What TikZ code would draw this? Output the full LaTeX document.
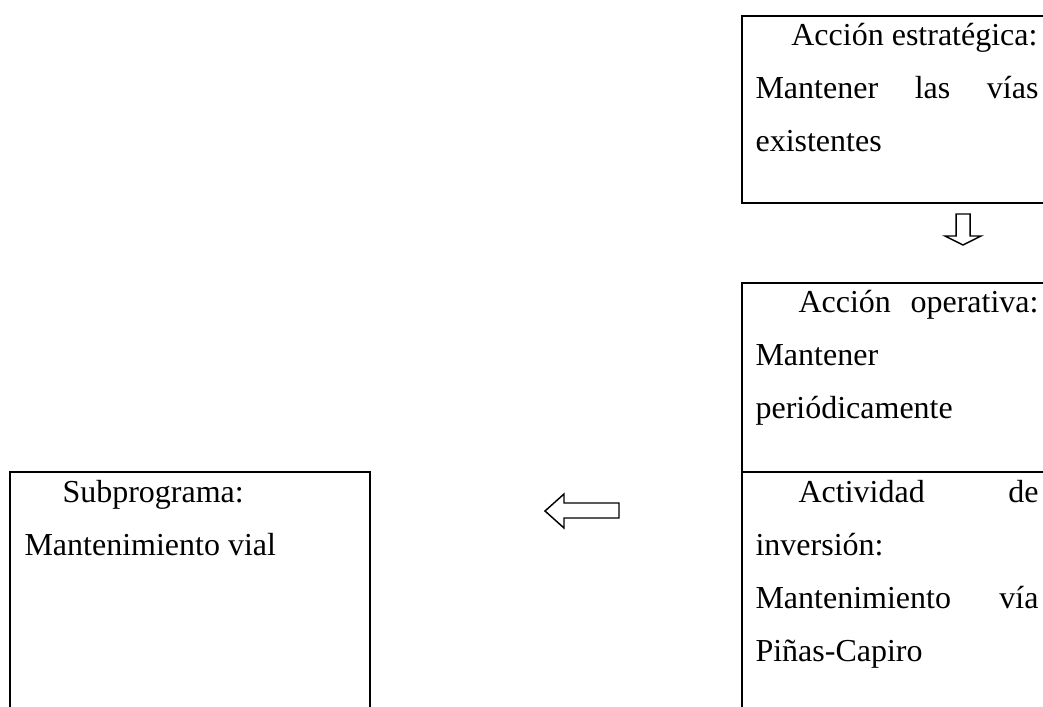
\documentclass[tikz,border=0pt]{standalone}
\usepackage{fontspec}
\setmainfont{Liberation Serif}
\begin{document}
\begin{tikzpicture}[x=0.375pt,y=-0.375pt,
  font=\fontsize{12}{14}\selectfont,
  boxline/.style={line width=0.9pt},
  txt/.style={inner sep=0pt, anchor=base west},
  txtr/.style={inner sep=0pt, anchor=base east},
  blockarrow/.style={line width=0.55pt, line join=miter, fill=white}]
\useasboundingbox (0,0) rectangle (1043,707);
\clip (0,0) rectangle (1043,707);

% frames (they run on past the page edge)
\draw[boxline] (742,16) rectangle (1070,203);
\draw[boxline] (742,283) rectangle (1070,730);
\draw[boxline] (742,472) -- (1070,472);
\draw[boxline] (10,472) rectangle (370,730);

% strategic action
\node[txtr] (e1) at (1038,46) {Acción estratégica:};
\node[txt] (e2) at (755,99) {\makebox[106.1pt][s]{Mantener las vías}};
\node[txt] (e3) at (755,152) {existentes};

% operative action
\node[txt] (o1) at (798,313) {\makebox[90pt][s]{Acción operativa:}};
\node[txt] (o2) at (755,366) {Mantener};
\node[txt] (o3) at (755,419) {periódicamente};

% investment activity
\node[txt] (a1) at (798,502) {\makebox[90pt][s]{Actividad de}};
\node[txt] (a2) at (755,555) {inversión:};
\node[txt] (a3) at (755,608) {\makebox[106.1pt][s]{Mantenimiento vía}};
\node[txt] (a4) at (755,661) {Piñas-Capiro};

% sub-programme
\node[txt] (s1) at (62,502) {Subprograma:};
\node[txt] (s2) at (24,555) {Mantenimiento vial};

% block arrows
\draw[blockarrow] (956,214) -- (970,214) -- (970,236) -- (981,236) -- (963,245)
  -- (945,236) -- (956,236) -- cycle;
\draw[blockarrow] (619,503) -- (564,503) -- (564,494) -- (545,511) -- (564,528)
  -- (564,518) -- (619,518) -- cycle;
\end{tikzpicture}
\end{document}
